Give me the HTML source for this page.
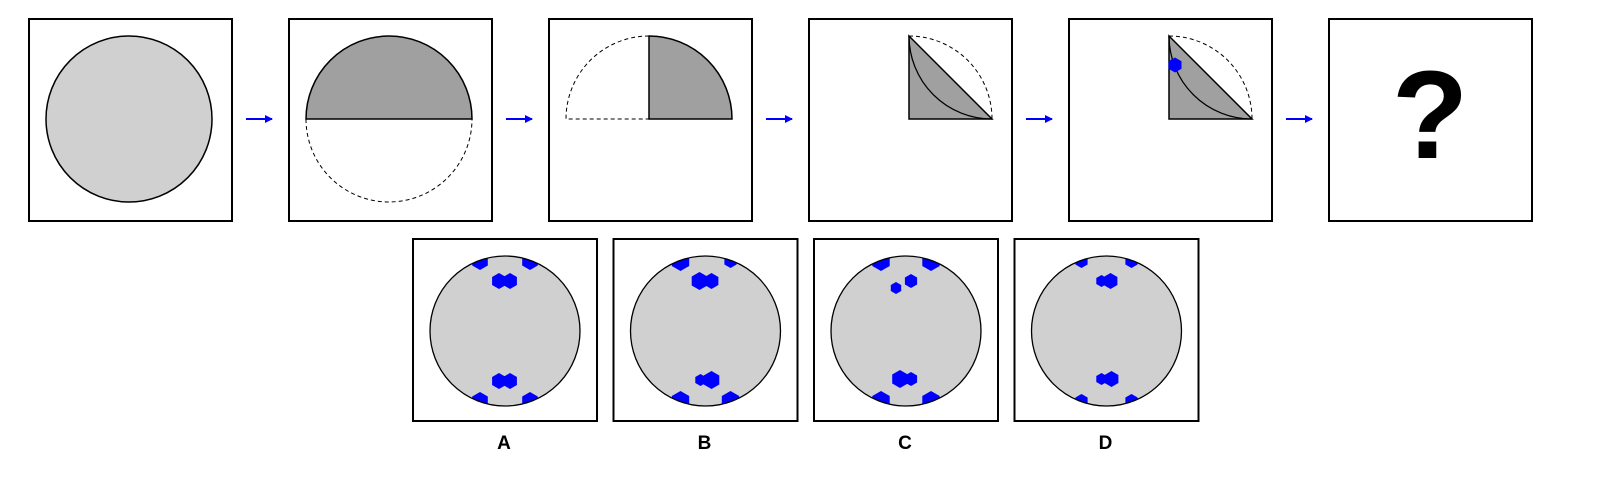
<!DOCTYPE html>
<html><head><meta charset="utf-8"><style>
html,body{margin:0;padding:0;background:#fff;}
svg{display:block;}
text{font-family:"Liberation Sans",Arial,sans-serif;font-weight:bold;}
</style></head><body>
<svg id="puzzle" width="1610" height="490" viewBox="0 0 1610 490" xmlns="http://www.w3.org/2000/svg">
<defs>
<marker id="ah" markerWidth="8" markerHeight="8" refX="7" refY="4" orient="auto" markerUnits="userSpaceOnUse"><path d="M0,0 L8,4 L0,8 Z" fill="#0000ff"/></marker>
</defs>
<g id="steps"></g>
<g id="options"></g>
</svg>
<script>
// option labels
const optionLabels = ['A','B','C','D'];
// hexes per option: [dx, dy, radius] relative to circle centre
const optA = [[-25,-70,9],[25,-70,9],[-6,-50,8],[5,-50,8],[-6,50,8],[5,50,8],[-25,70,9],[25,70,9]];
const optB = [[-25,-70,10],[25,-70,7],[-6,-50,9],[6,-50,8],[-5,49,6],[6,49,9],[-25,70,10],[25,70,10]];
const optC = [[-25,-70,10],[25,-70,10],[-10,-43,6],[5,-50,7],[-6,48,9],[5,48,7],[-25,70,10],[25,70,10]];
const optD = [[-25,-70,7],[25,-70,7],[-5,-50,6],[4,-50,8],[-5,48,6],[5,48,8],[-25,70,7],[25,70,7]];
const optionHexes = [optA, optB, optC, optD];

const NS='http://www.w3.org/2000/svg';
function mk(tag, attrs, parent){const e=document.createElementNS(NS,tag);for(const k in attrs)e.setAttribute(k,attrs[k]);parent.appendChild(e);return e;}
function hexPts(cx,cy,r){let p=[];for(let i=0;i<6;i++){const a=Math.PI/180*(60*i-90);p.push((cx+r*Math.cos(a)).toFixed(1)+','+(cy+r*Math.sin(a)).toFixed(1));}return p.join(' ');}

const steps=document.getElementById('steps');
const BW=203, BH=202, TOP=19, R=83;
for(let i=0;i<6;i++){
  const x=29+i*260;
  const g=mk('g',{},steps);
  
  
  const cx=x+100, cy=119;
  if(i===0){
    const c=mk('circle',{cx:cx,cy:cy,r:R,fill:'#d0d0d0',stroke:'#000','stroke-width':1.5},g);
    
    
  } else if(i===1){
    mk('path',{d:`M${cx-R},${cy} A${R},${R} 0 0 0 ${cx+R},${cy}`,fill:'none',stroke:'#000','stroke-width':1,'stroke-dasharray':'4,3'},g);
    const h=mk('path',{d:`M${cx-R},${cy} A${R},${R} 0 0 1 ${cx+R},${cy} Z`,fill:'#a0a0a0',stroke:'#000','stroke-width':1.5},g);
    
    
  } else if(i===2){
    mk('path',{d:`M${cx},${cy-R} A${R},${R} 0 0 0 ${cx-R},${cy} L${cx},${cy}`,fill:'none',stroke:'#000','stroke-width':1,'stroke-dasharray':'4,3'},g);
    const q=mk('path',{d:`M${cx},${cy} L${cx},${cy-R} A${R},${R} 0 0 1 ${cx+R},${cy} Z`,fill:'#a0a0a0',stroke:'#000','stroke-width':1.5},g);
    
    
  } else if(i===3||i===4){
    mk('path',{d:`M${cx},${cy-R} A${R},${R} 0 0 1 ${cx+R},${cy}`,fill:'none',stroke:'#000','stroke-width':1,'stroke-dasharray':'4,3'},g);
    const t=mk('path',{d:`M${cx},${cy} L${cx},${cy-R} L${cx+R},${cy} Z`,fill:'#a0a0a0',stroke:'#000','stroke-width':1.5},g);
    
    
    mk('path',{d:`M${cx},${cy-R} A${R},${R} 0 0 0 ${cx+R},${cy}`,fill:'none',stroke:'#000','stroke-width':1.3},g);
    if(i===4){
      const hx=mk('polygon',{points:hexPts(cx+6,65,7.5),fill:'#0000ff'},g);
      
      
    }
  } else {
    const q=mk('text',{x:cx+1,y:158,'font-size':125,'text-anchor':'middle',fill:'#000'},g);
    q.textContent='?';
    
    
  }
  const b=mk('rect',{x:x,y:TOP,width:BW,height:BH,fill:'none',stroke:'#000','stroke-width':2},g);
  
  
  if(i<5){
    const a=mk('line',{x1:x+BW+14,y1:119,x2:x+BW+40,y2:119,stroke:'#0000ff','stroke-width':2,'marker-end':'url(#ah)'},steps);
    
    
  }
}

const opts=document.getElementById('options');
const defs=document.querySelector('defs');
for(let k=0;k<optionLabels.length;k++){
  const x=413+k*200.5, y=239, w=184, h=182;
  const cx=x+92, cy=331, r=75;
  const g=mk('g',{},opts);
  
  
  const cp=mk('clipPath',{id:'cp'+k},defs);
  mk('circle',{cx:cx,cy:cy,r:r},cp);
  mk('circle',{cx:cx,cy:cy,r:r,fill:'#d0d0d0'},g);
  const hg=mk('g',{'clip-path':'url(#cp'+k+')'},g);
  optionHexes[k].forEach(hd=>{
    const p=mk('polygon',{points:hexPts(cx+hd[0],cy+hd[1],hd[2]),fill:'#0000ff'},hg);
    
    
  });
  mk('circle',{cx:cx,cy:cy,r:r,fill:'none',stroke:'#000','stroke-width':1.3},g);
  const b=mk('rect',{x:x,y:y,width:w,height:h,fill:'none',stroke:'#000','stroke-width':2},g);
  
  
  const t=mk('text',{x:cx-1,y:449,'font-size':19,'text-anchor':'middle',fill:'#000'},g);
  t.textContent=optionLabels[k];
  
  
}
</script>
</body></html>
